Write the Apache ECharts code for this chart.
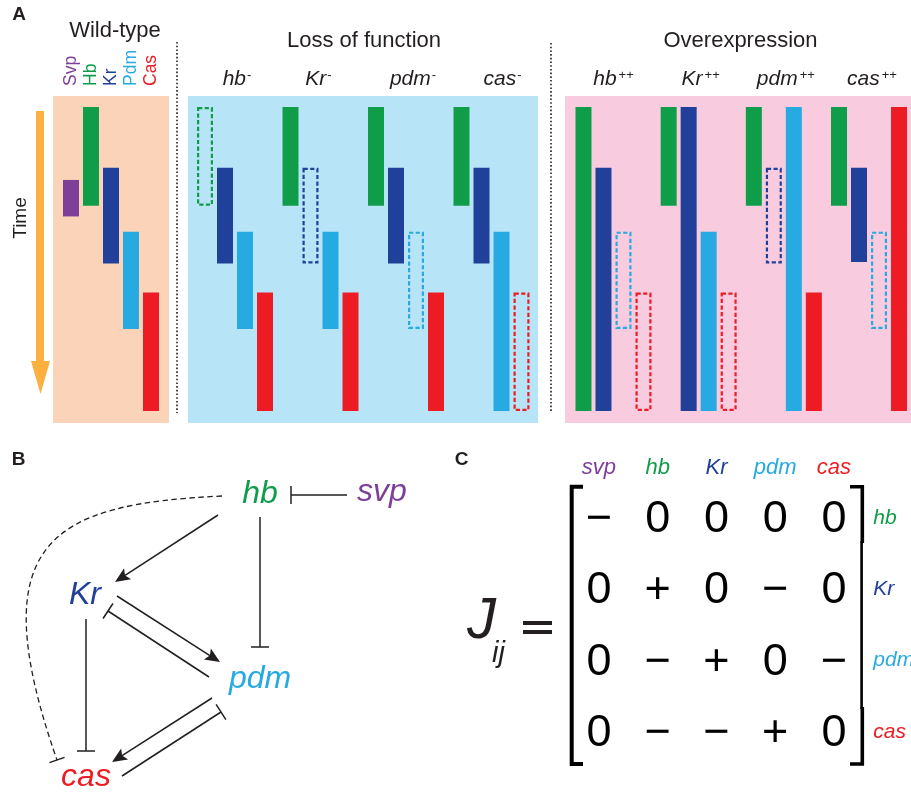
<!DOCTYPE html>
<html>
<head>
<meta charset="utf-8">
<script src="https://cdn.jsdelivr.net/npm/echarts@6/dist/echarts.min.js"></script>
<style>
  html, body { margin: 0; padding: 0; background: #ffffff; }
  #main { width: 911px; height: 795px; }
</style>
</head>
<body>
<div id="main"></div>
<script>
// ---------- Panel A: temporal expression windows (time units: 0 = first division, 100 = end) ----------
const wtGenes = ['Svp', 'Hb', 'Kr', 'Pdm', 'Cas'];
const wtStart = [24, 0, 20, 41, 61];
const wtEnd   = [36, 32.5, 51.5, 73, 100];

// columns inside every mutant group: hb, Kr, pdm, cas
const lofConditions = ['hb', 'Kr', 'pdm', 'cas'];
const lofStart = [[0, 20, 41, 61], [0, 20, 41, 61], [0, 20, 41, 61], [0, 20, 41, 61]];
const lofEnd   = [[32.5, 51.5, 73, 100], [32.5, 51.5, 73, 100], [32.5, 51.5, 73, 100], [32.5, 51.5, 100, 100]];
const lofLost  = [[1, 0, 0, 0], [0, 1, 0, 0], [0, 0, 1, 0], [0, 0, 0, 1]];

const oeConditions = ['hb', 'Kr', 'pdm', 'cas'];
const oeStart = [[0, 20, 41, 61], [0, 0, 41, 61], [0, 20, 0, 61], [0, 20, 41, 0]];
const oeEnd   = [[100, 100, 73, 100], [32.5, 100, 100, 100], [32.5, 51.5, 100, 100], [32.5, 51, 73, 100]];
const oeLost  = [[0, 0, 1, 1], [0, 0, 0, 1], [0, 1, 0, 0], [0, 0, 1, 0]];

// ---------- Panel B: regulatory network (diagram units) ----------
const nodeNames = ['hb', 'svp', 'Kr', 'pdm', 'cas'];
const nodeX = [260, 382, 85, 260, 86];
const nodeY = [54, 52, 155.5, 238.8, 336.8];
// edges: start point, end point, sign (1 = activation, -1 = repression)
const edgeStart = [[347, 55], [218, 75], [260, 77], [117, 156], [209, 237], [86, 179], [212, 258], [122, 336]];
const edgeEnd   = [[291, 55], [115, 142], [260, 207], [220, 222], [108, 171], [86, 311], [112, 322], [221, 272]];
const edgeSign  = [-1, 1, -1, 1, -1, -1, 1, -1];
// weak repression hb -| cas, cubic curve: start, control 1, control 2, end
const weakEdge = [222, 56, 52, 64, -20, 100, 57, 320];

// ---------- Panel C: Jacobian signs ----------
const jacCols = ['svp', 'hb', 'Kr', 'pdm', 'cas'];
const jacRows = ['hb', 'Kr', 'pdm', 'cas'];
const jacobian = [
  [-1, 0, 0, 0, 0],
  [0, 1, 0, -1, 0],
  [0, -1, 1, 0, -1],
  [0, -1, -1, 1, 0]
];

// ---------- styling ----------
const FONT = '"Liberation Sans", Arial, Helvetica, sans-serif';
const INK = '#231f20';
const geneColor = { svp: '#7e3f98', hb: '#0f9d49', Kr: '#21409a', pdm: '#27aae1', cas: '#ed1c24' };
const geneKeys = ['svp', 'hb', 'Kr', 'pdm', 'cas'];
const COL_STEP = 20;
const BAR_W = 16;

function barRender(nCols) {
  return function (params, api) {
    const cat = api.value(0);
    const slot = api.value(1);
    const p0 = api.coord([cat, api.value(2)]);
    const p1 = api.coord([cat, api.value(3)]);
    const color = geneColor[geneKeys[api.value(4)]];
    const lost = api.value(5);
    const cx = p0[0] + (slot - (nCols - 1) / 2) * COL_STEP;
    const x = cx - BAR_W / 2;
    if (lost) {
      return {
        type: 'rect',
        shape: { x: x + 1.1, y: p0[1] + 1.1, width: BAR_W - 2.2, height: p1[1] - p0[1] - 2.2 },
        style: { fill: 'none', stroke: color, lineWidth: 2.2, lineDash: [4.2, 2.4] }
      };
    }
    return {
      type: 'rect',
      shape: { x: x, y: p0[1], width: BAR_W, height: p1[1] - p0[1] },
      style: { fill: color }
    };
  };
}

const wtData = wtGenes.map((g, i) => [i, 0, wtStart[i], wtEnd[i], i, 0]);
function groupData(start, end, lost) {
  const out = [];
  for (let c = 0; c < start.length; c++) {
    for (let j = 0; j < 4; j++) out.push([c, j, start[c][j], end[c][j], j + 1, lost[c][j]]);
  }
  return out;
}
const lofData = groupData(lofStart, lofEnd, lofLost);
const oeData = groupData(oeStart, oeEnd, oeLost);

// condition labels with superscript marks; shifts move a label sideways
function conditionAxisLabel(sup, shifts, gap) {
  const rich = {};
  shifts.forEach((sh, i) => {
    rich['g' + i] = {
      fontFamily: FONT, fontStyle: 'italic', fontSize: 21, color: INK,
      padding: [0, 0, 0, sh > 0 ? 2 * sh : 0]
    };
    rich['s' + i] = {
      fontFamily: FONT, fontSize: 13, color: INK, verticalAlign: 'top',
      padding: [0, sh < 0 ? -2 * sh : 0, 0, gap]
    };
  });
  return {
    interval: 0,
    margin: 17,
    formatter: (v, i) => '{g' + i + '|' + v + '}{s' + i + '|' + sup + '}',
    rich: rich
  };
}

const hiddenValue = (min, max, inverse) => ({
  type: 'value', min: min, max: max, inverse: !!inverse, show: false
});

// ---------- Panel B renderers ----------
function nodeRender(params, api) {
  const p = api.coord([api.value(0), api.value(1)]);
  const name = nodeNames[api.value(2)];
  return {
    type: 'text', x: p[0], y: p[1],
    style: {
      text: name, font: 'italic 32px ' + FONT, fill: geneColor[name],
      textAlign: 'center', textVerticalAlign: 'middle', verticalAlign: 'middle'
    }
  };
}

function edgeRender(params, api) {
  const a = api.coord([api.value(0), api.value(1)]);
  const b = api.coord([api.value(2), api.value(3)]);
  const sign = api.value(4);
  const dx = b[0] - a[0], dy = b[1] - a[1];
  const L = Math.hypot(dx, dy);
  const ux = dx / L, uy = dy / L, px = -uy, py = ux;
  const children = [];
  const lineStyle = { stroke: INK, lineWidth: 1.5 };
  if (sign > 0) {
    const HL = 15, HW = 6.5;
    const bx = b[0] - ux * HL, by = b[1] - uy * HL;
    children.push({ type: 'line', shape: { x1: a[0], y1: a[1], x2: bx + ux * 3, y2: by + uy * 3 }, style: lineStyle });
    children.push({
      type: 'polygon',
      shape: { points: [[b[0], b[1]], [bx + px * HW, by + py * HW], [bx + ux * 3, by + uy * 3], [bx - px * HW, by - py * HW]] },
      style: { fill: INK }
    });
  } else {
    const TB = 9;
    children.push({ type: 'line', shape: { x1: a[0], y1: a[1], x2: b[0], y2: b[1] }, style: lineStyle });
    children.push({
      type: 'line',
      shape: { x1: b[0] + px * TB, y1: b[1] + py * TB, x2: b[0] - px * TB, y2: b[1] - py * TB },
      style: lineStyle
    });
  }
  return { type: 'group', children: children };
}

function weakRender(params, api) {
  const p0 = api.coord([api.value(0), api.value(1)]);
  const c1 = api.coord([api.value(2), api.value(3)]);
  const c2 = api.coord([api.value(4), api.value(5)]);
  const p3 = api.coord([api.value(6), api.value(7)]);
  const dx = p3[0] - c2[0], dy = p3[1] - c2[1];
  const L = Math.hypot(dx, dy);
  const px = -dy / L, py = dx / L;
  const TB = 8;
  return {
    type: 'group',
    children: [
      {
        type: 'bezierCurve',
        shape: { x1: p0[0], y1: p0[1], cpx1: c1[0], cpy1: c1[1], cpx2: c2[0], cpy2: c2[1], x2: p3[0], y2: p3[1] },
        style: { stroke: INK, lineWidth: 1.3, lineDash: [5.5, 3.5], fill: null }
      },
      {
        type: 'line',
        shape: { x1: p3[0] + px * TB, y1: p3[1] + py * TB, x2: p3[0] - px * TB, y2: p3[1] - py * TB },
        style: { stroke: INK, lineWidth: 1.5 }
      }
    ]
  };
}

// ---------- Panel C renderer ----------
const signText = { '-1': '\u2212', '0': '0', '1': '+' };
function cellRender(params, api) {
  const p = api.coord([api.value(0), api.value(1)]);
  return {
    type: 'text', x: p[0], y: p[1] + 1.5,
    style: {
      text: signText[String(api.value(2))], font: '45px ' + FONT, fill: '#000000',
      textAlign: 'center', textVerticalAlign: 'middle', verticalAlign: 'middle'
    }
  };
}
const cellData = [];
jacobian.forEach((row, r) => row.forEach((v, c) => cellData.push([c, r, v])));

// ---------- decorations ----------
function txt(text, x, y, font, fill, extra) {
  return Object.assign({
    type: 'text', x: x, y: y,
    style: { text: text, font: font, fill: fill, textAlign: 'center', textVerticalAlign: 'middle', verticalAlign: 'middle' }
  }, extra || {});
}
const graphics = [
  // panel backgrounds
  { type: 'rect', z: -10, shape: { x: 53, y: 96, width: 116, height: 327 }, style: { fill: '#fbd3b9' } },
  { type: 'rect', z: -10, shape: { x: 188, y: 96, width: 350, height: 327 }, style: { fill: '#b8e4f8' } },
  { type: 'rect', z: -10, shape: { x: 565, y: 96, width: 346, height: 327 }, style: { fill: '#f8cbdf' } },
  // dotted separators
  { type: 'line', shape: { x1: 177, y1: 42, x2: 177, y2: 413 }, style: { stroke: INK, lineWidth: 1.6, lineDash: [1.6, 2.1] } },
  { type: 'line', shape: { x1: 551, y1: 43, x2: 551, y2: 413 }, style: { stroke: INK, lineWidth: 1.6, lineDash: [1.6, 2.1] } },
  // time arrow
  { type: 'rect', shape: { x: 36, y: 111, width: 8, height: 251 }, style: { fill: '#fbb040' } },
  { type: 'polygon', shape: { points: [[31, 361], [50, 361], [40.5, 394]] }, style: { fill: '#fbb040' } },
  txt('Time', 21, 218, '19px ' + FONT, INK, { rotation: Math.PI / 2 }),
  // panel letters and headers
  txt('A', 19, 15, 'bold 19px ' + FONT, INK),
  txt('B', 18.5, 460, 'bold 19px ' + FONT, INK),
  txt('C', 461.5, 460, 'bold 19px ' + FONT, INK),
  txt('Wild-type', 115, 30.6, '22px ' + FONT, INK),
  txt('Loss of function', 364, 40.6, '22px ' + FONT, INK),
  txt('Overexpression', 740.5, 40.6, '22px ' + FONT, INK),
  // J_ij =
  { type: 'text', x: 467, y: 622, style: { text: 'J', font: 'italic 58px ' + FONT, fill: INK, textAlign: 'left', textVerticalAlign: 'middle', verticalAlign: 'middle' } },
  { type: 'text', x: 492, y: 654, style: { text: 'ij', font: 'italic 29px ' + FONT, fill: INK, textAlign: 'left', textVerticalAlign: 'middle', verticalAlign: 'middle' } },
  { type: 'rect', shape: { x: 523, y: 621, width: 29, height: 4 }, style: { fill: INK } },
  { type: 'rect', shape: { x: 523, y: 630, width: 29, height: 4 }, style: { fill: INK } },
  // matrix brackets
  { type: 'polyline', shape: { points: [[583, 486.7], [571.7, 486.7], [571.7, 764], [583, 764]] }, style: { stroke: '#000', lineWidth: 4, fill: null } },
  { type: 'polyline', shape: { points: [[850, 486.7], [862.3, 486.7], [862.3, 543]] }, style: { stroke: '#000', lineWidth: 3.6, fill: null } },
  { type: 'line', shape: { x1: 861.6, y1: 541, x2: 861.6, y2: 709 }, style: { stroke: '#000', lineWidth: 2.6 } },
  { type: 'polyline', shape: { points: [[862.3, 707], [862.3, 764], [850, 764]] }, style: { stroke: '#000', lineWidth: 3.6, fill: null } }
];

// grids keep their exact boxes even when labels reach the edge of the canvas
const gridBox = (box) => Object.assign({ outerBoundsMode: 'none', containLabel: false }, box);

const chart = echarts.init(document.getElementById('main'), null, { renderer: 'canvas' });
chart.setOption({
  backgroundColor: '#ffffff',
  animation: false,
  grid: [
    gridBox({ left: 61, top: 107, width: 100, height: 304 }),          // wild-type
    gridBox({ left: 192.25, top: 107, width: 342, height: 304 }),      // loss of function
    gridBox({ left: 570.9, top: 107, width: 340.7, height: 304 }),     // overexpression
    gridBox({ left: 0, top: 440, width: 430, height: 355 }),           // network
    gridBox({ left: 569.6, top: 482.3, width: 293.75, height: 285.3 }) // Jacobian
  ],
  xAxis: [
    {
      gridIndex: 0, type: 'category', data: wtGenes, position: 'top',
      axisLine: { show: false }, axisTick: { show: false }, splitLine: { show: false },
      axisLabel: {
        interval: 0, rotate: 90, margin: 21, fontFamily: FONT, fontSize: 17.5,
        color: (v, i) => geneColor[geneKeys[i]]
      }
    },
    {
      gridIndex: 1, type: 'category', data: lofConditions, position: 'top',
      axisLine: { show: false }, axisTick: { show: false }, splitLine: { show: false },
      axisLabel: conditionAxisLabel('-', [2, -2, 7, 11], 1)
    },
    {
      gridIndex: 2, type: 'category', data: oeConditions, position: 'top',
      axisLine: { show: false }, axisTick: { show: false }, splitLine: { show: false },
      axisLabel: conditionAxisLabel('++', [0, 2, 2, 3], 2)
    },
    Object.assign({ gridIndex: 3 }, hiddenValue(0, 430)),
    {
      gridIndex: 4, type: 'category', data: jacCols, position: 'top',
      axisLine: { show: false }, axisTick: { show: false }, splitLine: { show: false },
      axisLabel: {
        interval: 0, margin: 3, fontFamily: FONT, fontStyle: 'italic', fontSize: 22,
        color: (v, i) => geneColor[jacCols[i]]
      }
    }
  ],
  yAxis: [
    Object.assign({ gridIndex: 0 }, hiddenValue(0, 100, true)),
    Object.assign({ gridIndex: 1 }, hiddenValue(0, 100, true)),
    Object.assign({ gridIndex: 2 }, hiddenValue(0, 100, true)),
    Object.assign({ gridIndex: 3 }, hiddenValue(0, 355, true)),
    {
      gridIndex: 4, type: 'category', data: jacRows, inverse: true, position: 'right',
      axisLine: { show: false }, axisTick: { show: false }, splitLine: { show: false },
      axisLabel: {
        interval: 0, margin: 10, fontFamily: FONT, fontStyle: 'italic', fontSize: 21,
        color: (v, i) => geneColor[jacRows[i]]
      }
    }
  ],
  series: [
    { type: 'custom', xAxisIndex: 0, yAxisIndex: 0, encode: { x: 0, y: [2, 3] }, renderItem: barRender(1), data: wtData },
    { type: 'custom', xAxisIndex: 1, yAxisIndex: 1, encode: { x: 0, y: [2, 3] }, renderItem: barRender(4), data: lofData },
    { type: 'custom', xAxisIndex: 2, yAxisIndex: 2, encode: { x: 0, y: [2, 3] }, renderItem: barRender(4), data: oeData },
    {
      type: 'custom', xAxisIndex: 3, yAxisIndex: 3, encode: { x: 0, y: 1 }, renderItem: nodeRender,
      data: nodeNames.map((n, i) => [nodeX[i], nodeY[i], i])
    },
    {
      type: 'custom', xAxisIndex: 3, yAxisIndex: 3, encode: { x: [0, 2], y: [1, 3] }, renderItem: edgeRender,
      data: edgeStart.map((s, i) => [s[0], s[1], edgeEnd[i][0], edgeEnd[i][1], edgeSign[i]])
    },
    {
      type: 'custom', xAxisIndex: 3, yAxisIndex: 3, encode: { x: [0, 6], y: [1, 7] }, renderItem: weakRender,
      data: [weakEdge]
    },
    { type: 'custom', xAxisIndex: 4, yAxisIndex: 4, encode: { x: 0, y: 1 }, renderItem: cellRender, data: cellData }
  ],
  graphic: { elements: graphics }
});
</script>
</body>
</html>
